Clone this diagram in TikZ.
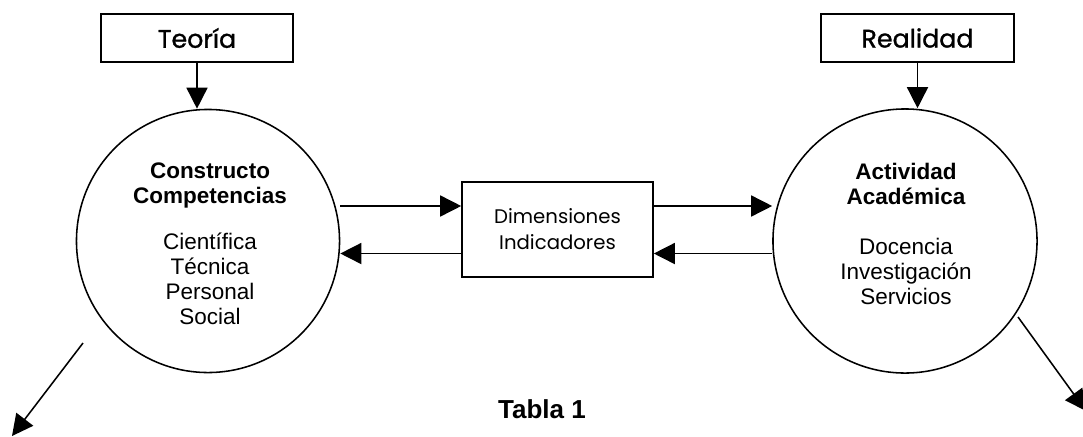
\documentclass[tikz,border=0pt]{standalone}
\usepackage{fontspec}
\setmainfont{Liberation Sans}
\newfontfamily\gothic{Poppins}
\newfontfamily\gothicm[FakeBold=1.2]{Poppins}
\usetikzlibrary{positioning,
				arrows.meta,
				calc}

\begin{document}
\begin{tikzpicture}[x=0.025cm,y=-0.025cm,line width=1.1pt,
  caja/.style={draw,rectangle,inner sep=0pt},
  bola/.style={draw,circle,minimum size=6.575cm,inner sep=0pt},
  flecha/.style={-{Triangle[length=15pt,width=15pt]}},
  lista/.style={align=center,font=\fontsize{16}{17.8}\selectfont}]
  \useasboundingbox (0,0) rectangle (1083,436);
  % cajas de arriba
  \node[caja,minimum width=4.8cm,minimum height=1.2cm,font=\gothicm\fontsize{18}{20}\selectfont] (teoria) at (197,38) {Teoría};
  \node[caja,minimum width=4.825cm,minimum height=1.2cm,font=\gothicm\fontsize{18}{20}\selectfont] (realidad) at (917.5,38) {Realidad};
  % circulos
  \node[bola] (constructo) at (208,241) {};
  \node[bola,minimum size=6.6cm] (actividad) at (905,241) {};
  \node[lista] (constructotxt) at (210,244) {\textbf{Constructo}\\\textbf{Competencias}\\[15pt]Científica\\Técnica\\Personal\\Social};
  \node[lista] (actividadtxt) at (906,234) {\textbf{Actividad}\\\textbf{Académica}\\[18pt]Docencia\\Investigación\\Servicios};
  % caja central
  \node[caja,minimum width=4.775cm,minimum height=2.375cm,align=center,font=\gothic\fontsize{14}{18.5}\selectfont] (dims) at (557.5,229.5) {Dimensiones\\Indicadores};
  \coordinate (dA) at ([yshift=0.5875cm]dims.west);
  \coordinate (dB) at ([yshift=-0.6cm]dims.west);
  % flechas
  \draw[flecha](teoria.south)--(teoria.south |- constructo.north);
  \draw[flecha](realidad.south)--(realidad.south |- actividad.north);
  \draw[flecha](constructo.east |- dA)--(dA);
  \draw[flecha](dB)--(constructo.east |- dB);
  \draw[flecha](dA -| dims.east)--(dA -| actividad.west);
  \draw[flecha](dB -| actividad.west)--(dB -| dims.east);
  \coordinate (salidaI) at (83,343);
  \coordinate (finI) at (12,436);
  \coordinate (salidaD) at (1018,317);
  \coordinate (finD) at (1086,411);
  \draw[flecha](salidaI)--(finI);
  \draw[flecha](salidaD)--(finD);
  \node[font=\bfseries\fontsize{18.5}{21}\selectfont] (tabla) at (542,409) {Tabla 1};
\end{tikzpicture}
\end{document}
